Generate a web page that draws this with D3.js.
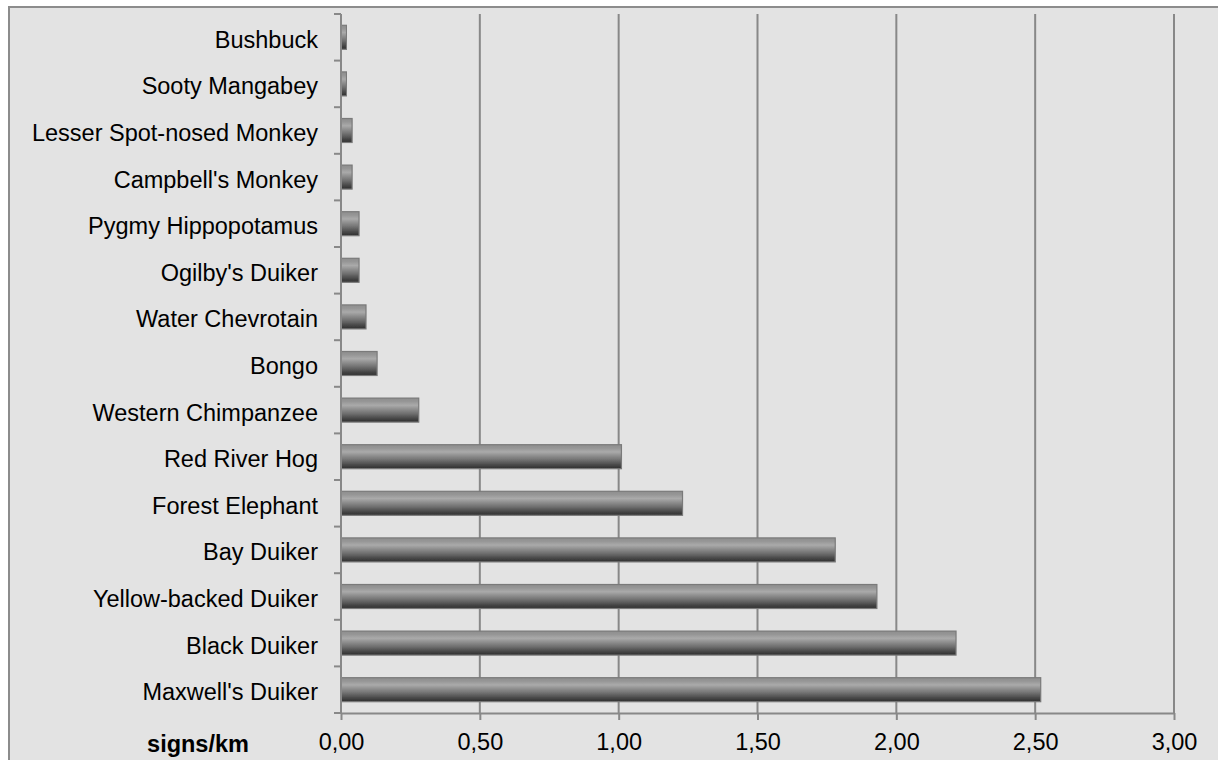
<!DOCTYPE html>
<html>
<head>
<meta charset="utf-8">
<script src="https://cdn.jsdelivr.net/npm/d3@7"></script>
<style>
  html, body { margin: 0; padding: 0; background: #ffffff; }
  svg { display: block; font-family: "Liberation Sans", Arial, sans-serif; }
</style>
</head>
<body>
<svg id="chart" width="1218" height="760"></svg>
<script>
// Species, top to bottom
const species = [
  "Bushbuck", "Sooty Mangabey", "Lesser Spot-nosed Monkey", "Campbell's Monkey",
  "Pygmy Hippopotamus", "Ogilby's Duiker", "Water Chevrotain", "Bongo",
  "Western Chimpanzee", "Red River Hog", "Forest Elephant", "Bay Duiker",
  "Yellow-backed Duiker", "Black Duiker", "Maxwell's Duiker"
];
// Encounter rate of signs per km walked
const signsPerKm = [
  0.02, 0.02, 0.04, 0.04,
  0.065, 0.065, 0.09, 0.13,
  0.28, 1.01, 1.23, 1.78,
  1.93, 2.215, 2.52
];
const xTicks = [0, 0.5, 1, 1.5, 2, 2.5, 3];
const axisTitle = "signs/km";

const svg = d3.select("#chart");
const W = 1218, H = 760;
const plot = { left: 341, right: 1174, top: 14, bottom: 713 };
const ink = "#888888";
const fontSize = 23.5;

// Outer chart frame
svg.append("rect")
  .attr("x", 9).attr("y", 7)
  .attr("width", W + 10).attr("height", H + 10)
  .attr("fill", "#e3e3e3")
  .attr("stroke", "#8c8c8c").attr("stroke-width", 2);

const defs = svg.append("defs");
const grad = defs.append("linearGradient")
  .attr("id", "barShade").attr("x1", 0).attr("y1", 0).attr("x2", 0).attr("y2", 1);
[
  [0, "#8e8e8e"], [0.14, "#969696"], [0.3, "#aaaaaa"], [0.45, "#909090"],
  [0.65, "#6e6e6e"], [0.85, "#474747"], [1, "#2e2e2e"]
].forEach(([o, c]) => grad.append("stop").attr("offset", o).attr("stop-color", c));

const soft = defs.append("filter").attr("id", "soft")
  .attr("x", "-5%").attr("y", "-20%").attr("width", "110%").attr("height", "140%");
soft.append("feGaussianBlur").attr("stdDeviation", 0.45);

const x = d3.scaleLinear().domain([0, 3]).range([plot.left, plot.right]);
const yBand = d3.scaleBand().domain(species).range([plot.top, plot.bottom]);
const y = d3.scaleBand().domain(species).range([plot.top, plot.bottom])
  .paddingInner(0.485).paddingOuter(0.2425);

const commaFmt = d3.formatLocale({ decimal: ",", thousands: ".", grouping: [3], currency: ["", ""] })
  .format(".2f");

// Vertical gridlines
svg.append("g").selectAll("line")
  .data(xTicks.filter(t => t > 0))
  .join("line")
  .attr("x1", d => x(d)).attr("x2", d => x(d))
  .attr("y1", plot.top).attr("y2", plot.bottom)
  .attr("stroke", ink).attr("stroke-width", 2);

// Bars
svg.append("g").selectAll("rect")
  .data(species.map((s, i) => ({ s, v: signsPerKm[i] })))
  .join("rect")
  .attr("x", x(0))
  .attr("y", d => y(d.s))
  .attr("width", d => x(d.v) - x(0))
  .attr("height", y.bandwidth())
  .attr("fill", "url(#barShade)")
  .attr("stroke", "#7a7a7a").attr("stroke-width", 1.2)
  .attr("filter", "url(#soft)");

// X axis
const xAxis = svg.append("g")
  .attr("transform", `translate(0,${plot.bottom})`)
  .call(d3.axisBottom(x).tickValues(xTicks).tickFormat(commaFmt).tickSizeInner(7).tickSizeOuter(0).tickPadding(13));
xAxis.select(".domain").attr("stroke", ink).attr("stroke-width", 2);
xAxis.selectAll(".tick line").attr("stroke", ink).attr("stroke-width", 2);
xAxis.selectAll(".tick text")
  .attr("font-size", fontSize).attr("fill", "#000")
  .attr("font-family", "'Liberation Sans', Arial, sans-serif");

// Y axis: category labels, with ticks on band boundaries
const yAxis = svg.append("g").attr("transform", `translate(${plot.left},0)`);
yAxis.append("line")
  .attr("x1", 0).attr("x2", 0).attr("y1", plot.top).attr("y2", plot.bottom)
  .attr("stroke", ink).attr("stroke-width", 2);
const bounds = species.map(s => yBand(s)).concat([plot.bottom]);
yAxis.selectAll("line.tk")
  .data(bounds)
  .join("line").attr("class", "tk")
  .attr("x1", -7).attr("x2", 0)
  .attr("y1", d => d).attr("y2", d => d)
  .attr("stroke", ink).attr("stroke-width", 2);
yAxis.selectAll("text")
  .data(species)
  .join("text")
  .attr("x", -23)
  .attr("y", d => yBand(d) + yBand.bandwidth() / 2)
  .attr("dy", "0.45em")
  .attr("text-anchor", "end")
  .attr("font-size", fontSize)
  .attr("fill", "#000")
  .text(d => d);

// Axis title
svg.append("text")
  .attr("x", 198).attr("y", 752)
  .attr("text-anchor", "middle")
  .attr("font-size", fontSize).attr("font-weight", "bold")
  .attr("fill", "#000")
  .text(axisTitle);
</script>
</body>
</html>
